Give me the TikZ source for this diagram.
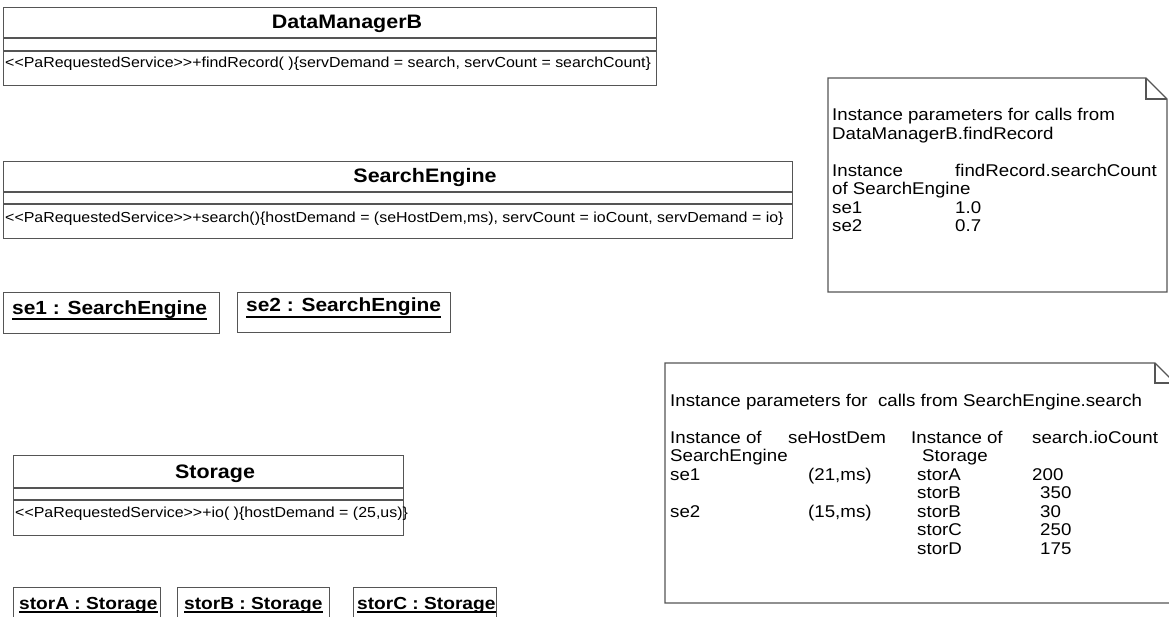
\documentclass[tikz,border=0pt]{standalone}
\usepackage{fontspec}
\setmainfont{Liberation Sans}[FakeStretch=1.1]
\definecolor{lcol}{RGB}{85,85,85}
\newcommand\LLt{<\kern0pt<}
\newcommand\GGt{>\kern0pt>}
\begin{document}
\begin{tikzpicture}[x=1pt,y=-1pt,
  ln/.style={draw=lcol, line width=1.2pt},
  frame/.style={ln, rectangle, inner sep=0pt, anchor=north west},
  ctitle/.style={inner sep=0pt, anchor=base, font=\fontsize{19.5}{22}\selectfont\bfseries},
  optext/.style={inner sep=0pt, anchor=base west, font=\fontsize{14.5}{17}\selectfont},
  inst/.style={inner sep=0pt, anchor=base west, font=\fontsize{19}{22}\selectfont\bfseries},
  insts/.style={inner sep=0pt, anchor=base west, font=\fontsize{17.4}{20}\selectfont\bfseries},
  ntext/.style={inner sep=0pt, anchor=base west, font=\fontsize{17}{20}\selectfont},
  ul/.style={line width=1.6pt, black}]
\useasboundingbox (0,0) rectangle (1169,617);
\fill[white] (0,0) rectangle (1169,617);

% ---------- DataManagerB
\node[frame, minimum width=653pt, minimum height=78pt] (dmb) at (3,7) {};
\draw[ln] ([yshift=-31pt]dmb.north west) -- ([yshift=-31pt]dmb.north east);
\draw[ln] ([yshift=-44pt]dmb.north west) -- ([yshift=-44pt]dmb.north east);
\node[ctitle] (dmbT) at (347,29) {DataManagerB};
\node[optext] (dmbO) at (5,68) {\LLt PaRequestedService\GGt+findRecord( )\{servDemand = search, servCount = searchCount\}};

% ---------- SearchEngine
\node[frame, minimum width=789pt, minimum height=77pt] (se) at (3,161) {};
\draw[ln] ([yshift=-31pt]se.north west) -- ([yshift=-31pt]se.north east);
\draw[ln] ([yshift=-43pt]se.north west) -- ([yshift=-43pt]se.north east);
\node[ctitle] (seT) at (425,183) {SearchEngine};
\node[optext] (seO) at (5,223) {\LLt PaRequestedService\GGt+search()\{hostDemand = (seHostDem,ms), servCount = ioCount, servDemand = io\}};

% ---------- instances of SearchEngine
\node[frame, minimum width=216pt, minimum height=41pt] (se1) at (3,292) {};
\node[inst] (se1T) at (12,315) {se1 : SearchEngine};
\draw[ul] ([yshift=-4pt]se1T.base west) -- ([yshift=-4pt]se1T.base east);
\node[frame, minimum width=213pt, minimum height=40pt] (se2) at (237,292) {};
\node[inst] (se2T) at (246,312) {se2 : SearchEngine};
\draw[ul] ([yshift=-5pt]se2T.base west) -- ([yshift=-5pt]se2T.base east);

% ---------- Storage
\node[frame, minimum width=390pt, minimum height=80pt] (st) at (13,455) {};
\draw[ln] ([yshift=-33pt]st.north west) -- ([yshift=-33pt]st.north east);
\draw[ln] ([yshift=-45pt]st.north west) -- ([yshift=-45pt]st.north east);
\node[ctitle] (stT) at (215,478) {Storage};
\node[optext] (stO) at (15,517) {\LLt PaRequestedService\GGt+io( )\{hostDemand = (25,us)\}};

% ---------- instances of Storage
\node[frame, minimum width=147pt, minimum height=45pt] (sa) at (13,587) {};
\node[insts] (saT) at (19,609) {storA : Storage};
\draw[ul] ([yshift=-3pt]saT.base west) -- ([yshift=-3pt]saT.base east);
\node[frame, minimum width=152pt, minimum height=45pt] (sb) at (177,587) {};
\node[insts] (sbT) at (184,609) {storB : Storage};
\draw[ul] ([yshift=-3pt]sbT.base west) -- ([yshift=-3pt]sbT.base east);
\node[frame, minimum width=143pt, minimum height=45pt] (sc) at (353,587) {};
\node[insts] (scT) at (357,609) {storC : Storage};
\draw[ul] ([yshift=-3pt]scT.base west) -- ([yshift=-3pt]scT.base east);

% ---------- Note 1
\draw[ln] (828,78) -- (1146,78) -- (1167,99) -- (1167,292) -- (828,292) -- cycle;
\draw[ln] (1146,78) -- (1146,99) -- (1167,99);
\node[ntext] (n1a) at (832,121) {Instance parameters for calls from};
\node[ntext] (n1b) at (832,139.5) {DataManagerB.findRecord};
\node[ntext] (n1c) at (832,176.5) {Instance};
\node[ntext] (n1d) at (955,176.5) {findRecord.searchCount};
\node[ntext] (n1e) at (832,195) {of SearchEngine};
\node[ntext] (n1f) at (832,213.5) {se1};
\node[ntext] (n1g) at (955,213.5) {1.0};
\node[ntext] (n1h) at (832,232) {se2};
\node[ntext] (n1i) at (955,232) {0.7};

% ---------- Note 2
\draw[ln] (665,363) -- (1155,363) -- (1175,383) -- (1175,603) -- (665,603) -- cycle;
\draw[ln] (1155,363) -- (1155,383) -- (1175,383);
\node[ntext] (n2a) at (670,406) {Instance parameters for~ calls from SearchEngine.search};
\node[ntext] (n2b) at (670,443) {Instance of};
\node[ntext] (n2c) at (788,443) {seHostDem};
\node[ntext] (n2d) at (911,443) {Instance of};
\node[ntext] (n2e) at (1032,443) {search.ioCount};
\node[ntext] (n2f) at (670,461.5) {SearchEngine};
\node[ntext] (n2g) at (922,461.5) {Storage};
\node[ntext] (n2h) at (670,480) {se1};
\node[ntext] (n2i) at (808,480) {(21,ms)};
\node[ntext] (n2j) at (917,480) {storA};
\node[ntext] (n2k) at (1032,480) {200};
\node[ntext] (n2l) at (917,498.5) {storB};
\node[ntext] (n2m) at (1040,498.5) {350};
\node[ntext] (n2n) at (670,517) {se2};
\node[ntext] (n2o) at (808,517) {(15,ms)};
\node[ntext] (n2p) at (917,517) {storB};
\node[ntext] (n2q) at (1040,517) {30};
\node[ntext] (n2r) at (917,535.5) {storC};
\node[ntext] (n2s) at (1040,535.5) {250};
\node[ntext] (n2t) at (917,554) {storD};
\node[ntext] (n2u) at (1040,554) {175};
\end{tikzpicture}
\end{document}
